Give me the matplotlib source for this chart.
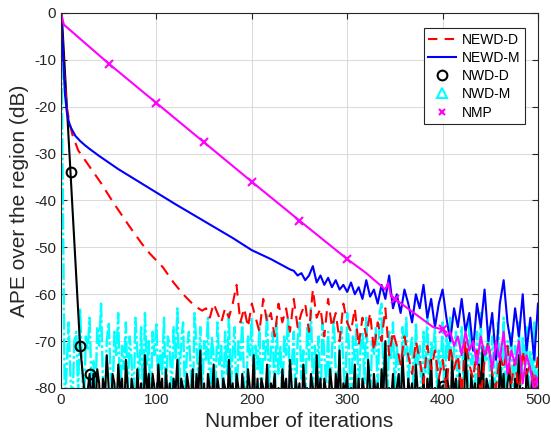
import matplotlib
matplotlib.use('Agg')
import matplotlib.pyplot as plt
from matplotlib.lines import Line2D
import numpy as np

plt.rcParams['font.family'] = ['Liberation Sans', 'DejaVu Sans']
plt.rcParams['axes.unicode_minus'] = False

# NEWD-D (red dashed)
red_x = [0, 3, 6, 9, 12, 18, 30, 41, 55, 72, 85, 93, 107, 118, 128, 140, 148] + list(range(152, 501, 4))
red_y = [0, -12, -20, -23.5, -26, -29.3, -32.8, -36, -40.5, -45.6, -49.3, -51.3, -54.3, -57.5, -60, -62.5, -63.5,
         -63, -65, -62, -64, -66, -63, -65, -62, -58, -66, -63, -67, -62, -65, -68, -61, -66, -64, -69, -62,
         -66, -63, -68, -61, -67, -64, -62, -68, -59, -65, -63, -69, -61, -67, -64, -70, -62, -66, -68, -63,
         -71, -65, -69, -64, -72, -66, -70, -63, -73, -68, -71, -75, -69, -73, -77, -70, -74, -79, -71, -76,
         -72, -78, -74, -80, -71, -76, -73, -81, -70, -75, -78, -72, -82, -74, -70, -77, -80, -73, -76, -71,
         -79, -74, -82, -72, -77, -75, -80, -73]

# NEWD-M (blue solid)
blue_x = [0, 2, 4, 6, 8, 10, 15, 20, 25, 30, 40, 50, 60, 80, 100, 120, 140, 160, 180, 200, 220, 240] + list(range(244, 501, 4))
blue_y = [0, -8, -17, -21, -23, -24.3, -26.2, -27.3, -28.2, -29, -30.5, -31.9, -33.3, -35.8, -38.3, -40.8, -43.2,
          -45.6, -48, -50.6, -52.5, -54.7,
          -55, -56, -55.5, -57, -56, -54, -57.5, -56, -58, -56.5, -58.5, -57, -59, -58, -59.5, -57.5, -60, -58.5,
          -61, -57, -60.5, -59, -62, -58, -61, -56, -63, -60, -64, -59, -62, -66, -60, -63, -58, -65, -61, -67,
          -62, -59, -65, -70, -63, -67, -61, -68, -64, -72, -62, -67, -59, -70, -64, -74, -62, -57, -66, -71,
          -63, -69, -60, -72, -65, -74, -62]

# NWD-D (black solid, circles)
black_x = [0, 1, 10, 20, 26, 30] + list(range(32, 501, 2))
black_y = [0, -1, -34, -71, -84, -77,
           -84, -77, -86, -76, -79, -88, -78, -82, -73, -80, -87, -77, -79, -86, -75, -81, -78, -88, -74, -80,
           -86, -78, -81, -87, -76, -83, -79, -88, -73, -81, -77, -86, -77, -80, -87, -75, -81, -78, -88, -76,
           -83, -79, -87, -78, -81, -74, -86, -78, -80, -88, -77, -80, -83, -76, -87, -77, -81, -72, -86, -79,
           -88, -77, -80, -83, -75, -86, -78, -81, -87, -78, -80, -86, -74, -82, -79, -88, -77, -80, -86, -77,
           -81, -87, -76, -80, -83, -73, -86, -78, -88, -78, -80, -83, -75, -87, -79, -81, -77, -86, -80, -88,
           -76, -81, -78, -87, -74, -80, -86, -78, -82, -79, -88, -75, -81, -80, -87, -77, -80, -86, -73, -83,
           -78, -87, -78, -81, -86, -76, -80, -88, -77, -82, -72, -86, -79, -81, -77, -87, -80, -83, -75, -86,
           -78, -88, -78, -81, -86, -74, -80, -87, -77, -82, -79, -88, -76, -81, -70, -86, -80, -83, -77, -87,
           -80, -77, -86, -73, -81, -88, -78, -82, -79, -87, -75, -81, -80, -86, -77, -88, -78, -82, -74, -86,
           -80, -87, -78, -81, -79.5, -86, -76, -80, -88, -74, -82, -78, -87, -77, -81, -86, -72, -80, -88, -77,
           -82, -79, -86, -75, -81, -71, -87, -78, -80, -86, -77, -82, -80, -88, -74, -81, -77, -86, -79, -76,
           -82, -87, -78, -81, -73, -86, -80, -88, -76, -80, -83, -77, -87, -79, -82]
black_marks = [10, 20, 30, 400]

# NWD-M (cyan dash-dot, triangles)
cyan_x = [0, 2, 4] + list(range(8, 501, 2))
cyan_y = [0, -40, -85,
          -66, -78, -84, -70, -68, -81, -63, -75, -86, -69, -72, -65, -80, -74, -83, -67, -71, -62, -79, -85,
          -70, -66, -77, -82, -68, -73, -64, -84, -71, -76, -66, -81, -69, -74, -85, -65, -72, -78, -67, -83,
          -64, -75, -70, -86, -68, -73, -66, -80, -72, -77, -65, -84, -69, -71, -82, -67, -74, -63, -79, -70,
          -66, -83, -72, -68, -76, -85, -64, -71, -78, -67, -82, -70, -74, -65, -86, -69, -73, -80, -66, -75,
          -71, -84, -68, -77, -64, -81, -72, -67, -85, -70, -74, -66, -79, -83, -69, -73, -65, -82, -71, -76,
          -67, -86, -70, -74, -64, -80, -72, -68, -84, -66, -77, -71, -83, -69, -73, -65, -81, -75, -68, -85,
          -70, -66, -78, -72, -84, -67, -74, -63, -80, -71, -76, -69, -86, -66, -73, -79, -68, -82, -72, -65,
          -77, -84, -70, -67, -75, -81, -64, -72, -86, -69, -74, -66, -83, -71, -68, -79, -65, -76, -85, -70,
          -73, -67, -82, -64, -62, -78, -70, -84, -68, -74, -66, -81, -71, -76, -86, -67, -73, -65, -80, -72,
          -69, -84, -66, -75, -71, -82, -68, -77, -64, -85, -70, -73, -67, -80, -72, -76, -66, -83, -69, -74,
          -65, -81, -71, -68, -86, -73, -67, -78, -70, -84, -66, -75, -72, -82, -68, -77, -64, -85, -71, -74,
          -67, -80, -69, -76, -83, -66, -72, -78, -65, -86, -70, -74, -68, -82, -71, -77, -66, -84, -69, -75,
          -67, -81, -72, -78, -66, -83, -76]
cyan_marks = [500]

# NMP (magenta solid, x markers)
mag_x = [0, 3, 50, 100, 150, 200, 250, 300, 320, 340, 343, 346, 350, 360, 370, 380, 390] + list(range(400, 501, 4))
mag_y = [0, -2.5, -10.8, -19.2, -27.6, -36, -44.3, -52.5, -55.5, -59, -57.5, -60.5, -61, -62.5, -64, -65.5, -67,
         -67.5, -69, -68, -71, -69, -73, -68, -72, -70, -75, -69, -73, -71, -76, -70, -74, -68, -77, -72, -75,
         -70, -79, -73, -76, -81, -78]
mag_marks = [50, 100, 150, 200, 250, 300, 350, 400, 450, 500]


def mark_idx(xs, marks):
    return [i for i, v in enumerate(xs) if v in marks]


fig = plt.figure(figsize=(5.51, 4.40), dpi=100)
ax = fig.add_axes([0.1107, 0.1182, 0.8657, 0.8523])

ax.plot(cyan_x, cyan_y, color='cyan', ls='-.', dashes=(7, 1.2, 1.2, 1.2), lw=1.7, marker='^', ms=7,
        mfc='none', mew=1.5, markevery=mark_idx(cyan_x, cyan_marks))
ax.plot(black_x, black_y, color='black', ls='-', lw=1.5, marker='o', ms=7, mfc='none', mew=1.5,
        markevery=mark_idx(black_x, black_marks))
ax.plot(red_x, red_y, color='red', ls='--', lw=1.5, dashes=(5.5, 3.5))
ax.plot(blue_x, blue_y, color='blue', ls='-', lw=1.5)
ax.plot(mag_x, mag_y, color='magenta', ls='-', lw=1.5, marker='x', ms=6, mew=1.5,
        markevery=mark_idx(mag_x, mag_marks))

ax.set_xlim(0, 500)
ax.set_ylim(-80, 0)
ax.set_xticks(np.arange(0, 501, 100))
ax.set_yticks(np.arange(-80, 1, 10))
ax.grid(True, color='#dcdcdc', lw=0.8)
ax.set_axisbelow(True)
ax.tick_params(direction='in', top=True, right=True, labelsize=11, colors='#262626', length=4)
for s in ax.spines.values():
    s.set_color('#262626')
    s.set_linewidth(0.8)

ax.set_xlabel('Number of iterations', fontsize=15, color='#262626')
ax.set_ylabel('APE over the region (dB)', fontsize=15, color='#262626')

handles = [
    Line2D([], [], color='red', ls='--', lw=1.5, dashes=(4.5, 3.5)),
    Line2D([], [], color='blue', ls='-', lw=1.5),
    Line2D([], [], color='black', ls='none', marker='o', ms=7, mfc='none', mew=1.5),
    Line2D([], [], color='cyan', ls='none', marker='^', ms=7, mfc='none', mew=1.5),
    Line2D([], [], color='magenta', ls='none', marker='x', ms=5, mew=1.5),
]
labels = ['NEWD-D', 'NEWD-M', 'NWD-D', 'NWD-M', 'NMP']
leg = ax.legend(handles, labels, loc='upper right', bbox_to_anchor=(0.973, 0.96), fontsize=10,
                fancybox=False, framealpha=1, edgecolor='#262626', handlelength=2.0,
                borderpad=0.35, labelspacing=0.3, handletextpad=0.4, borderaxespad=0)
leg.get_frame().set_linewidth(0.8)

fig.savefig('out.png', dpi=100)
